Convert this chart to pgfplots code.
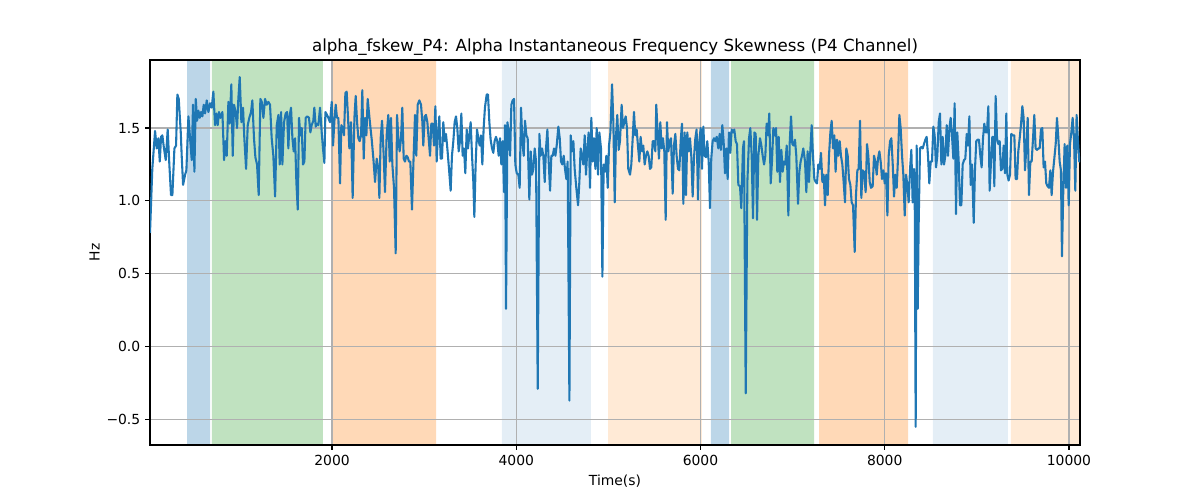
\documentclass[border=0pt]{standalone}
\usepackage{fontspec}
\setmainfont{DejaVu Sans}
\usepackage{pgfplots}
\pgfplotsset{compat=1.18}
\definecolor{tabblue}{RGB}{31,119,180}
\definecolor{spanblue}{RGB}{188,214,232}
\definecolor{spanbluel}{RGB}{228,238,246}
\definecolor{spangreen}{RGB}{192,226,192}
\definecolor{spanorange}{RGB}{255,217,183}
\definecolor{spanorangel}{RGB}{255,234,214}
\definecolor{gridgray}{RGB}{176,176,176}
\begin{document}
\begin{tikzpicture}
\begin{axis}[
  set layers,
  at={(108pt,39.6pt)}, anchor=south west,
  scale only axis, width=669.6pt, height=277.2pt,
  xmin=24, xmax=10120, ymin=-0.675, ymax=1.967,
  scaled x ticks=false, scaled y ticks=false,
  xtick={2000,4000,6000,8000,10000},
  xticklabels={2000,4000,6000,8000,10000},
  ytick={-0.5,0,0.5,1,1.5},
  yticklabels={−0.5,0.0,0.5,1.0,1.5},
  tick align=outside, tick pos=left,
  major tick length=3.5pt,
  tick style={black, line width=0.8pt},
  grid=major, grid style={gridgray, line width=0.8pt},
  axis line style={line width=0.8pt},
  ticklabel style={font=\fontsize{10}{12}\selectfont},
  label style={font=\fontsize{10}{12}\selectfont},
  ylabel style={yshift=-2pt},
  xlabel={Time(s)}, ylabel={Hz},
  title={alpha\_fskew\_P4: Alpha Instantaneous Frequency Skewness (P4 Channel)},
  title style={font=\fontsize{12}{14}\selectfont, yshift=-6.5pt},
]
\addplot[on layer=axis background, draw=none, fill=spanblue] coordinates {(426,-0.675) (426,1.967) (676,1.967) (676,-0.675) (426,-0.675)};
\addplot[on layer=axis background, draw=none, fill=spangreen] coordinates {(697,-0.675) (697,1.967) (1902,1.967) (1902,-0.675) (697,-0.675)};
\addplot[on layer=axis background, draw=none, fill=spanorange] coordinates {(2011,-0.675) (2011,1.967) (3129,1.967) (3129,-0.675) (2011,-0.675)};
\addplot[on layer=axis background, draw=none, fill=spanbluel] coordinates {(3845,-0.675) (3845,1.967) (4811,1.967) (4811,-0.675) (3845,-0.675)};
\addplot[on layer=axis background, draw=none, fill=spanorangel] coordinates {(4996,-0.675) (4996,1.967) (6016,1.967) (6016,-0.675) (4996,-0.675)};
\addplot[on layer=axis background, draw=none, fill=spanblue] coordinates {(6114,-0.675) (6114,1.967) (6310,1.967) (6310,-0.675) (6114,-0.675)};
\addplot[on layer=axis background, draw=none, fill=spangreen] coordinates {(6332,-0.675) (6332,1.967) (7233,1.967) (7233,-0.675) (6332,-0.675)};
\addplot[on layer=axis background, draw=none, fill=spanorange] coordinates {(7287,-0.675) (7287,1.967) (8253,1.967) (8253,-0.675) (7287,-0.675)};
\addplot[on layer=axis background, draw=none, fill=spanbluel] coordinates {(8524,-0.675) (8524,1.967) (9338,1.967) (9338,-0.675) (8524,-0.675)};
\addplot[on layer=axis background, draw=none, fill=spanorangel] coordinates {(9370,-0.675) (9370,1.967) (10120,1.967) (10120,-0.675) (9370,-0.675)};
\addplot[tabblue, line width=1.5pt, line join=round] table {
x y
24 0.78
49 1.22
79 1.48
97 1.36
115 1.43
130 1.27
144 1.44
158 1.45
176 1.36
195 1.28
216 1.49
234 1.25
252 1.04
267 1.04
289 1.36
307 1.38
321 1.73
336 1.70
358 1.47
368 1.31
383 1.11
405 1.18
419 1.21
441 1.58
459 1.43
477 1.28
491 1.66
506 1.20
521 1.70
535 1.55
549 1.62
564 1.57
578 1.61
593 1.58
607 1.66
622 1.60
640 1.69
658 1.61
676 1.67
694 1.64
712 1.75
730 1.52
745 1.60
759 1.52
773 1.61
788 1.57
810 1.61
828 1.28
842 1.41
857 1.31
875 1.68
889 1.53
907 1.80
922 1.31
936 1.66
954 1.61
969 1.50
983 1.70
998 1.85
1016 1.54
1034 1.64
1048 1.43
1067 1.22
1085 1.52
1102 1.57
1121 1.61
1135 1.69
1153 1.43
1168 1.30
1186 1.25
1204 1.04
1222 1.70
1237 1.68
1255 1.57
1273 1.70
1291 1.66
1309 1.68
1327 1.66
1345 1.43
1363 1.31
1382 1.03
1400 1.52
1418 1.59
1432 1.25
1447 1.61
1461 1.25
1479 1.54
1497 1.60
1512 1.61
1526 1.36
1541 1.59
1555 1.64
1570 1.43
1584 1.34
1599 1.43
1613 1.13
1628 0.94
1642 1.57
1656 1.45
1671 1.50
1685 1.25
1700 1.27
1714 1.57
1732 1.58
1750 1.57
1765 1.47
1779 1.52
1797 1.55
1808 1.64
1823 1.51
1837 1.53
1852 1.52
1870 1.64
1888 1.47
1902 1.36
1917 1.26
1928 1.61
1946 1.59
1960 1.57
1978 1.54
1997 1.68
2011 1.38
2026 1.55
2040 1.66
2054 1.57
2069 1.57
2087 1.12
2101 1.52
2116 1.50
2130 1.45
2145 1.74
2159 1.75
2174 1.57
2188 1.36
2206 1.54
2224 1.02
2243 1.57
2257 1.72
2272 1.54
2286 1.43
2300 1.41
2315 1.45
2329 1.76
2344 1.29
2358 1.57
2373 1.45
2387 1.70
2402 1.60
2416 1.51
2431 1.42
2449 1.29
2467 1.13
2485 1.29
2503 1.22
2514 1.02
2528 1.43
2543 1.55
2561 1.31
2575 1.06
2593 1.45
2611 1.59
2626 1.27
2640 1.57
2655 1.25
2673 1.09
2691 0.64
2706 1.59
2720 1.43
2734 1.34
2749 1.43
2763 1.64
2778 1.29
2792 1.27
2807 1.31
2821 1.30
2836 1.27
2850 1.27
2868 0.94
2886 1.31
2901 1.59
2915 1.31
2930 1.66
2948 1.69
2966 1.66
2981 1.54
2991 1.38
3006 1.58
3020 1.59
3035 1.54
3049 1.43
3064 1.31
3078 1.53
3093 1.53
3107 1.38
3122 1.65
3136 1.27
3151 1.47
3165 1.58
3179 1.29
3194 1.29
3208 1.54
3223 1.41
3237 1.46
3252 1.36
3270 1.22
3288 1.07
3302 1.31
3317 1.41
3331 1.54
3346 1.58
3360 1.50
3375 1.34
3389 1.41
3404 1.60
3418 1.31
3433 1.36
3447 1.19
3462 1.49
3476 1.36
3491 1.45
3505 1.54
3520 1.31
3534 1.13
3545 0.89
3559 1.25
3574 1.49
3588 1.43
3603 1.38
3617 1.45
3632 1.25
3646 1.50
3660 1.64
3679 1.73
3693 1.73
3708 1.54
3722 1.42
3737 1.36
3751 1.33
3765 1.41
3780 1.44
3794 1.41
3809 1.31
3824 1.43
3838 1.25
3853 1.41
3867 1.06
3878 1.52
3889 0.26
3904 1.54
3918 1.47
3933 1.31
3947 1.66
3961 1.69
3976 1.70
3990 1.25
4005 1.19
4023 1.18
4037 1.09
4052 1.64
4066 1.41
4081 1.31
4095 1.55
4110 1.45
4124 1.43
4142 1.01
4157 1.34
4171 1.18
4186 1.22
4200 1.36
4215 1.27
4233 -0.29
4251 1.46
4265 1.31
4280 1.36
4294 1.31
4309 1.13
4323 1.36
4338 1.49
4352 1.27
4367 1.07
4381 1.31
4396 1.31
4410 1.36
4425 1.31
4439 1.38
4457 1.51
4472 1.43
4486 1.27
4500 1.25
4515 1.31
4529 1.22
4544 1.15
4558 1.27
4577 -0.37
4591 1.45
4605 1.34
4620 1.41
4634 1.22
4652 1.09
4671 0.97
4685 1.13
4699 1.36
4714 1.31
4728 1.25
4743 1.45
4757 1.18
4772 1.36
4786 1.47
4801 1.09
4815 1.57
4830 1.27
4844 1.43
4859 1.22
4873 1.50
4888 1.18
4902 1.47
4920 1.36
4935 0.48
4949 1.25
4964 1.20
4978 1.31
4993 1.09
5007 1.38
5022 1.47
5040 1.80
5054 1.54
5069 0.99
5083 1.45
5097 1.59
5112 1.35
5126 1.41
5144 1.66
5159 1.50
5173 1.54
5188 1.58
5202 1.50
5216 1.22
5235 1.18
5249 1.25
5264 1.43
5278 1.61
5292 1.45
5307 1.49
5321 1.38
5336 1.27
5350 1.44
5365 1.34
5379 1.38
5394 1.25
5408 1.31
5423 1.34
5437 1.31
5452 1.22
5466 1.23
5481 1.41
5495 1.41
5510 1.34
5520 1.66
5535 1.47
5549 1.29
5564 1.54
5578 1.36
5593 1.43
5607 1.34
5622 0.87
5636 1.54
5651 1.34
5665 1.41
5680 1.43
5698 1.05
5712 1.38
5727 1.46
5741 1.31
5756 1.22
5770 1.21
5785 1.41
5799 1.53
5814 0.98
5828 1.47
5843 1.04
5857 1.47
5871 1.34
5886 1.43
5900 1.31
5915 1.03
5929 1.29
5944 1.43
5958 1.49
5973 1.01
5987 1.41
6002 1.50
6016 1.22
6031 1.51
6045 1.31
6060 1.30
6074 1.41
6089 1.27
6103 0.95
6117 1.29
6132 1.41
6147 1.43
6161 1.41
6176 1.44
6194 1.36
6208 1.46
6222 1.35
6237 1.52
6251 1.41
6266 1.19
6280 1.36
6295 1.15
6309 1.47
6324 1.33
6338 1.49
6353 1.47
6367 1.49
6382 1.41
6396 1.39
6411 1.11
6429 1.10
6443 0.95
6461 1.36
6472 1.41
6491 -0.32
6509 1.13
6527 1.43
6541 1.50
6556 1.31
6570 0.88
6585 1.47
6599 1.46
6614 0.87
6628 1.31
6646 1.43
6661 1.38
6675 1.31
6690 1.25
6704 1.31
6718 1.53
6733 1.45
6747 1.60
6762 1.12
6776 1.27
6791 1.50
6805 1.45
6820 1.50
6834 1.20
6849 1.44
6863 1.13
6878 1.35
6892 1.20
6907 1.27
6921 1.25
6936 1.38
6954 0.90
6968 1.39
6983 1.58
6997 1.39
7012 1.38
7026 1.42
7040 1.31
7059 0.98
7073 1.20
7087 1.27
7102 1.31
7116 1.36
7135 1.27
7149 1.06
7163 1.34
7178 1.13
7192 1.34
7207 1.52
7221 1.31
7236 1.15
7250 1.13
7265 1.12
7279 1.25
7294 1.22
7308 1.33
7323 1.13
7337 1.18
7352 0.97
7366 1.18
7381 1.04
7395 1.31
7410 1.47
7424 1.55
7439 1.36
7453 1.45
7467 1.20
7482 1.42
7496 1.31
7511 1.41
7525 1.31
7540 1.25
7554 1.13
7569 0.99
7583 1.36
7598 1.31
7612 1.15
7627 1.11
7641 0.99
7656 0.97
7674 0.65
7688 1.04
7703 1.21
7717 1.22
7732 1.55
7746 1.02
7760 1.21
7775 1.20
7793 1.06
7808 1.39
7822 1.31
7837 1.13
7851 1.09
7869 1.10
7884 1.31
7898 1.27
7913 1.18
7927 1.29
7942 1.34
7956 1.27
7971 1.15
7985 1.21
8000 1.12
8014 1.19
8029 0.90
8043 1.31
8058 1.41
8072 1.43
8087 1.25
8101 1.03
8115 1.18
8130 1.09
8144 1.29
8159 1.59
8173 1.50
8188 1.31
8202 1.18
8217 0.90
8231 1.18
8246 1.11
8260 0.99
8275 1.22
8289 1.35
8303 0.99
8318 1.22
8325 1.15
8336 -0.55
8347 1.38
8358 0.26
8369 0.86
8383 1.36
8397 1.37
8412 1.36
8426 1.39
8441 1.42
8455 1.44
8470 1.31
8484 1.12
8499 1.27
8513 1.27
8528 1.51
8542 1.45
8557 1.23
8571 1.31
8586 1.54
8600 1.60
8615 1.25
8629 1.44
8644 1.25
8658 1.31
8673 1.52
8687 1.31
8702 1.50
8716 1.57
8730 1.45
8745 1.29
8759 1.67
8774 0.91
8788 1.47
8803 1.27
8817 0.97
8832 0.97
8846 1.25
8861 1.28
8875 1.29
8890 1.46
8904 1.38
8919 1.58
8933 1.11
8948 1.25
8966 0.85
8980 1.22
8994 1.41
9009 1.42
9023 1.42
9038 1.31
9052 1.23
9067 1.43
9081 1.53
9096 1.47
9110 1.47
9125 1.65
9139 1.07
9154 1.27
9168 1.44
9179 1.44
9190 1.10
9204 1.72
9219 1.43
9233 1.39
9248 1.41
9262 1.21
9277 1.22
9291 1.38
9306 1.19
9320 1.60
9331 1.18
9345 1.14
9360 1.18
9374 1.46
9389 1.45
9407 1.45
9421 1.15
9436 1.15
9450 1.34
9465 1.43
9479 1.52
9494 1.65
9508 1.57
9523 1.21
9537 1.36
9552 1.57
9566 1.04
9581 1.27
9595 1.27
9610 1.43
9624 1.59
9638 1.36
9653 1.35
9667 1.36
9682 1.36
9696 1.49
9711 1.50
9725 1.23
9740 1.27
9754 1.12
9769 1.10
9783 1.09
9798 1.21
9812 1.04
9827 1.20
9841 1.29
9856 1.39
9870 1.57
9885 1.43
9899 1.27
9913 1.21
9924 0.62
9939 1.09
9953 1.39
9968 1.09
9982 1.38
9997 0.97
10011 1.39
10026 1.47
10040 1.57
10055 1.43
10069 1.07
10083 1.59
10098 1.41
10112 1.27
10120 1.28
};
\end{axis}
\pgfresetboundingbox
\path (0,0) rectangle (864pt,360pt);
\end{tikzpicture}
\end{document}
